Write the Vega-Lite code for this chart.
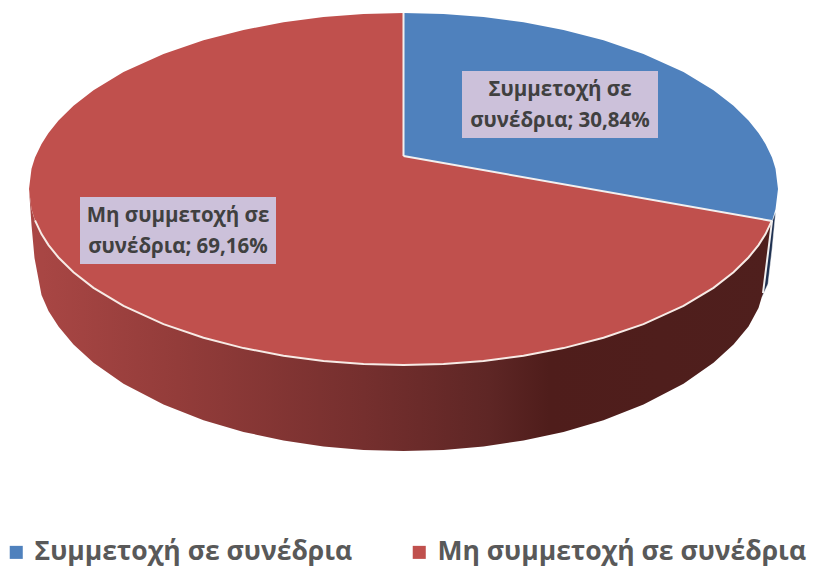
{"$schema":"https://vega.github.io/schema/vega-lite/v6.json","width":814,"height":568,"padding":0,"autosize":{"type":"fit","contains":"padding"},"background":"white","config":{"view":{"stroke":null}},
"datasets":{
"wall":[{"x":29,"y":189,"y2":189},{"x":31.5,"y":209.3,"y2":225},{"x":34.5,"y":219.5,"y2":258},{"x":41.5,"y":234.1,"y2":295},{"x":48.5,"y":245.1,"y2":311},{"x":58.5,"y":257.5,"y2":326.5},{"x":73.5,"y":272.2,"y2":344.4},{"x":93.5,"y":287.8,"y2":362.7},{"x":123.5,"y":305.9,"y2":383.7},{"x":163.5,"y":324.1,"y2":404.6},{"x":203.5,"y":337.8,"y2":420.2},{"x":243.5,"y":348.1,"y2":431.9},{"x":283.5,"y":355.7,"y2":440.5},{"x":323.5,"y":360.9,"y2":446.4},{"x":363.5,"y":364,"y2":449.9},{"x":403.5,"y":365,"y2":451},{"x":443.5,"y":364,"y2":449.9},{"x":483.5,"y":360.9,"y2":446.4},{"x":523.5,"y":355.7,"y2":440.5},{"x":563.5,"y":348.1,"y2":431.9},{"x":603.5,"y":337.8,"y2":420.2},{"x":643.5,"y":324.1,"y2":404.6},{"x":683.5,"y":305.9,"y2":383.7},{"x":713.5,"y":287.8,"y2":362.7},{"x":733.5,"y":272.2,"y2":344.4},{"x":748.5,"y":257.5,"y2":326.5},{"x":758.5,"y":245.1,"y2":308},{"x":763,"y":238.3,"y2":293},{"x":768,"y":229.4,"y2":253},{"x":772,"y":220.4,"y2":221}],
"blueWall":[{"x":762,"y":225,"y2":297},{"x":768,"y":225,"y2":284},{"x":772,"y":222,"y2":250},{"x":775.5,"y":212,"y2":214}],
"slices":[
{"slice":"Συμμετοχή σε συνέδρια","x":403.5,"y":13,"y2":156},{"slice":"Συμμετοχή σε συνέδρια","x":443.5,"y":14,"y2":163.1},{"slice":"Συμμετοχή σε συνέδρια","x":483.5,"y":17.1,"y2":170.1},{"slice":"Συμμετοχή σε συνέδρια","x":523.5,"y":22.3,"y2":177.2},{"slice":"Συμμετοχή σε συνέδρια","x":563.5,"y":29.9,"y2":184.3},{"slice":"Συμμετοχή σε συνέδρια","x":603.5,"y":40.2,"y2":191.3},{"slice":"Συμμετοχή σε συνέδρια","x":643.5,"y":53.9,"y2":198.4},{"slice":"Συμμετοχή σε συνέδρια","x":683.5,"y":72.1,"y2":205.5},{"slice":"Συμμετοχή σε συνέδρια","x":713.5,"y":90.2,"y2":210.8},{"slice":"Συμμετοχή σε συνέδρια","x":733.5,"y":105.8,"y2":214.3},{"slice":"Συμμετοχή σε συνέδρια","x":748.5,"y":120.5,"y2":216.9},{"slice":"Συμμετοχή σε συνέδρια","x":758.5,"y":132.9,"y2":218.7},{"slice":"Συμμετοχή σε συνέδρια","x":765.5,"y":143.9,"y2":219.9},{"slice":"Συμμετοχή σε συνέδρια","x":772,"y":157.6,"y2":221},{"slice":"Συμμετοχή σε συνέδρια","x":775.5,"y":168.7,"y2":209.3},{"slice":"Συμμετοχή σε συνέδρια","x":778,"y":189,"y2":189},
{"slice":"Μη συμμετοχή σε συνέδρια","x":29,"y":189,"y2":189},{"slice":"Μη συμμετοχή σε συνέδρια","x":31.5,"y":168.7,"y2":209.3},{"slice":"Μη συμμετοχή σε συνέδρια","x":35,"y":157.6,"y2":220.4},{"slice":"Μη συμμετοχή σε συνέδρια","x":41.5,"y":143.9,"y2":234.1},{"slice":"Μη συμμετοχή σε συνέδρια","x":48.5,"y":132.9,"y2":245.1},{"slice":"Μη συμμετοχή σε συνέδρια","x":58.5,"y":120.5,"y2":257.5},{"slice":"Μη συμμετοχή σε συνέδρια","x":73.5,"y":105.8,"y2":272.2},{"slice":"Μη συμμετοχή σε συνέδρια","x":93.5,"y":90.2,"y2":287.8},{"slice":"Μη συμμετοχή σε συνέδρια","x":123.5,"y":72.1,"y2":305.9},{"slice":"Μη συμμετοχή σε συνέδρια","x":163.5,"y":53.9,"y2":324.1},{"slice":"Μη συμμετοχή σε συνέδρια","x":203.5,"y":40.2,"y2":337.8},{"slice":"Μη συμμετοχή σε συνέδρια","x":243.5,"y":29.9,"y2":348.1},{"slice":"Μη συμμετοχή σε συνέδρια","x":283.5,"y":22.3,"y2":355.7},{"slice":"Μη συμμετοχή σε συνέδρια","x":323.5,"y":17.1,"y2":360.9},{"slice":"Μη συμμετοχή σε συνέδρια","x":363.5,"y":14,"y2":364},{"slice":"Μη συμμετοχή σε συνέδρια","x":403.5,"y":13,"y2":365},{"slice":"Μη συμμετοχή σε συνέδρια","x":403.5,"y":156,"y2":365},{"slice":"Μη συμμετοχή σε συνέδρια","x":443.5,"y":163.1,"y2":364},{"slice":"Μη συμμετοχή σε συνέδρια","x":483.5,"y":170.1,"y2":360.9},{"slice":"Μη συμμετοχή σε συνέδρια","x":523.5,"y":177.2,"y2":355.7},{"slice":"Μη συμμετοχή σε συνέδρια","x":563.5,"y":184.3,"y2":348.1},{"slice":"Μη συμμετοχή σε συνέδρια","x":603.5,"y":191.3,"y2":337.8},{"slice":"Μη συμμετοχή σε συνέδρια","x":643.5,"y":198.4,"y2":324.1},{"slice":"Μη συμμετοχή σε συνέδρια","x":683.5,"y":205.5,"y2":305.9},{"slice":"Μη συμμετοχή σε συνέδρια","x":713.5,"y":210.8,"y2":287.8},{"slice":"Μη συμμετοχή σε συνέδρια","x":733.5,"y":214.3,"y2":272.2},{"slice":"Μη συμμετοχή σε συνέδρια","x":748.5,"y":216.9,"y2":257.5},{"slice":"Μη συμμετοχή σε συνέδρια","x":758.5,"y":218.7,"y2":245.1},{"slice":"Μη συμμετοχή σε συνέδρια","x":765.5,"y":219.9,"y2":234.1},{"slice":"Μη συμμετοχή σε συνέδρια","x":772,"y":221,"y2":221}],
"rim":[{"x":35,"y":220.4},{"x":41.5,"y":234.1},{"x":48.5,"y":245.1},{"x":58.5,"y":257.5},{"x":73.5,"y":272.2},{"x":93.5,"y":287.8},{"x":123.5,"y":305.9},{"x":163.5,"y":324.1},{"x":203.5,"y":337.8},{"x":243.5,"y":348.1},{"x":283.5,"y":355.7},{"x":323.5,"y":360.9},{"x":363.5,"y":364},{"x":403.5,"y":365},{"x":443.5,"y":364},{"x":483.5,"y":360.9},{"x":523.5,"y":355.7},{"x":563.5,"y":348.1},{"x":603.5,"y":337.8},{"x":643.5,"y":324.1},{"x":683.5,"y":305.9},{"x":713.5,"y":287.8},{"x":733.5,"y":272.2},{"x":748.5,"y":257.5},{"x":758.5,"y":245.1},{"x":765.5,"y":234.1},{"x":772,"y":220.4}],
"seams":[{"seam":"a","x":403.5,"y":13},{"seam":"a","x":403.5,"y":156},{"seam":"b","x":403.5,"y":156},{"seam":"b","x":772,"y":221},{"seam":"c","x":763,"y":293},{"seam":"c","x":772,"y":221}],
"labels":[{"label":"Συμμετοχή σε\nσυνέδρια; 30,84%","x":462,"x2":658,"y":71,"y2":138,"cx":560,"cy":90},{"label":"Μη συμμετοχή σε\nσυνέδρια; 69,16%","x":80,"x2":276,"y":197,"y2":264,"cx":178,"cy":216}]
},
"encoding":{"x":{"field":"x","type":"quantitative","scale":{"domain":[0,814],"nice":false,"zero":false},"axis":null},"y":{"field":"y","type":"quantitative","scale":{"domain":[568,0],"nice":false,"zero":false},"axis":null}},
"layer":[
{"data":{"name":"blueWall"},"mark":{"type":"area","orient":"vertical","fill":"#1e3050","stroke":"#ffffff","strokeWidth":0.5},"encoding":{"y2":{"field":"y2"}}},
{"data":{"name":"wall"},"mark":{"type":"area","orient":"vertical","fill":{"gradient":"linear","x1":0,"y1":0,"x2":1,"y2":0,"stops":[{"offset":0,"color":"#aa4745"},{"offset":0.2,"color":"#933c3a"},{"offset":0.45,"color":"#752f2e"},{"offset":0.62,"color":"#5e2625"},{"offset":0.7,"color":"#4f1d1b"},{"offset":1,"color":"#4f1f1d"}]}},"encoding":{"y2":{"field":"y2"}}},
{"data":{"name":"slices"},"mark":{"type":"area","orient":"vertical"},"encoding":{"y2":{"field":"y2"},"color":{"field":"slice","type":"nominal","sort":["Συμμετοχή σε συνέδρια","Μη συμμετοχή σε συνέδρια"],"scale":{"domain":["Συμμετοχή σε συνέδρια","Μη συμμετοχή σε συνέδρια"],"range":["#4f81bd","#c0504d"]},"legend":{"title":null,"orient":"none","legendX":3,"legendY":539,"direction":"horizontal","columns":2,"columnPadding":53,"symbolType":"square","symbolSize":170,"symbolOpacity":1,"symbolStrokeWidth":0,"labelFont":"Open Sans","labelFontSize":26.5,"labelFontWeight":"bold","labelColor":"#595959","labelLimit":500,"labelOffset":5}}}},
{"data":{"name":"rim"},"mark":{"type":"line","color":"#f7ebe6","strokeWidth":2}},
{"data":{"name":"seams"},"mark":{"type":"line","color":"#f2f0f0","strokeWidth":2},"encoding":{"detail":{"field":"seam"}}},
{"data":{"name":"labels"},"mark":{"type":"rect","fill":"#ccc1da"},"encoding":{"x2":{"field":"x2"},"y2":{"field":"y2"}}},
{"data":{"name":"labels"},"mark":{"type":"text","font":"Open Sans","fontSize":20.5,"fontWeight":"bold","color":"#404040","align":"center","baseline":"middle","lineBreak":"\n","lineHeight":31},"encoding":{"x":{"field":"cx"},"y":{"field":"cy"},"text":{"field":"label"}}}
]}
